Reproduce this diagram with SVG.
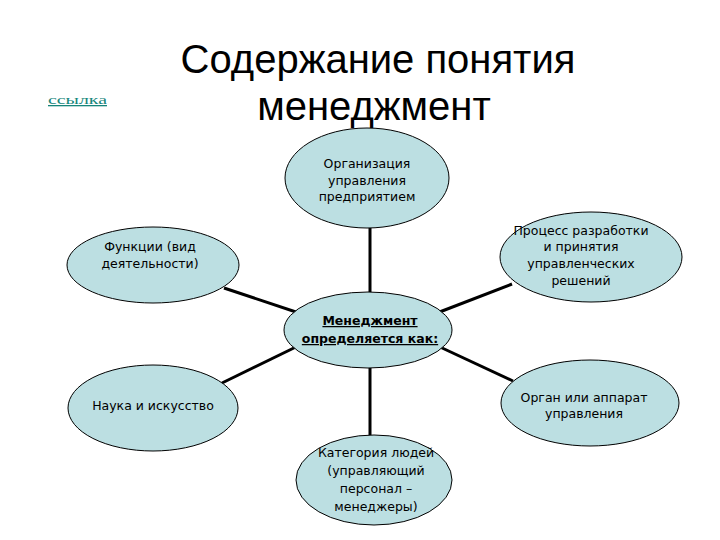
<svg xmlns="http://www.w3.org/2000/svg" width="720" height="540" viewBox="0 0 720 540">
<style>
.n{fill:#bcdfe2;stroke:#000;stroke-width:1}
.t{font-family:"DejaVu Sans",Verdana,sans-serif;font-size:12.5px;fill:#000;text-anchor:middle}
.b{font-weight:bold;text-decoration:underline}
.c{stroke:#000;stroke-width:3;fill:none}
.title{font-family:"Liberation Sans",Arial,sans-serif;font-size:40px;fill:#000;text-anchor:middle}
</style>
<rect width="720" height="540" fill="#fff"/>
<text class="title" x="378" y="73">Содержание понятия</text>
<text class="title" x="374" y="120">менеджмент</text>
<text x="48" y="104" font-family="Liberation Serif,serif" font-size="13" fill="#16857a" text-decoration="underline" textLength="59" lengthAdjust="spacingAndGlyphs">ссылка</text>
<g id="connectors">
<line class="c" x1="370" y1="228" x2="370" y2="292" stroke-width="2"/>
<line class="c" x1="370" y1="368" x2="370" y2="435"/>
<line class="c" x1="224" y1="288" x2="302" y2="314"/>
<line class="c" x1="512" y1="284" x2="437" y2="313"/>
<line class="c" x1="222" y1="383" x2="300" y2="345"/>
<line class="c" x1="513" y1="381" x2="440" y2="347"/>
</g>
<g id="top">
<ellipse class="n" cx="367" cy="178" rx="82" ry="50"/>
<text class="t" x="367" y="168">Организация</text>
<text class="t" x="367" y="185">управления</text>
<text class="t" x="367" y="201">предприятием</text>
</g>
<g id="functions">
<ellipse class="n" cx="153" cy="265" rx="86" ry="38"/>
<text class="t" x="150" y="251">Функции (вид</text>
<text class="t" x="150" y="268">деятельности)</text>
</g>
<g id="process">
<ellipse class="n" cx="591" cy="257" rx="91" ry="45"/>
<text class="t" x="581" y="235">Процесс разработки</text>
<text class="t" x="581" y="251">и принятия</text>
<text class="t" x="581" y="268">управленческих</text>
<text class="t" x="581" y="285">решений</text>
</g>
<g id="center">
<ellipse class="n" cx="368" cy="330" rx="84" ry="38"/>
<text class="t b" x="370" y="325">Менеджмент</text>
<text class="t b" x="370" y="343">определяется как:</text>
</g>
<g id="science">
<ellipse class="n" cx="153" cy="408" rx="85" ry="43"/>
<text class="t" x="153" y="410">Наука и искусство</text>
</g>
<g id="organ">
<ellipse class="n" cx="590" cy="403" rx="89" ry="43"/>
<text class="t" x="584" y="402">Орган или аппарат</text>
<text class="t" x="584" y="418">управления</text>
</g>
<g id="people">
<ellipse class="n" cx="374" cy="480" rx="78" ry="45"/>
<text class="t" x="376" y="457">Категория людей</text>
<text class="t" x="376" y="475">(управляющий</text>
<text class="t" x="376" y="493">персонал –</text>
<text class="t" x="376" y="511">менеджеры)</text>
</g>
</svg>
